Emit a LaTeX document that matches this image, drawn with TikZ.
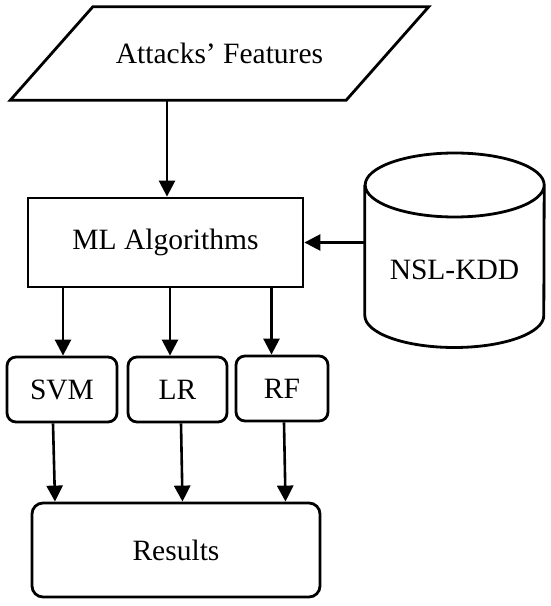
\documentclass[tikz,border=0pt]{standalone}
\usepackage{fontspec}
\setmainfont{Liberation Serif}
\usetikzlibrary{arrows.meta}
\begin{document}
\begin{tikzpicture}[x=1pt,y=1pt,
  box/.style={draw,line width=2.8pt,minimum height=65,inner sep=0pt},
  rbox/.style={box,rounded corners=9pt},
  arr/.style={line width=2.6pt,-{Triangle[length=16pt,width=16pt]}},
  every node/.style={font=\fontsize{29.5}{34}\selectfont}]
\useasboundingbox (0,0) rectangle (550,606);
\node[minimum width=253,minimum height=93,inner sep=0pt] (feat) at (219.5,552.5) {Attacks’ Features};
\draw[line width=2.8pt,line join=miter] (feat.north west) -- ([xshift=82.5]feat.north east)
  -- (feat.south east) -- ([xshift=-82.5]feat.south west) -- cycle;
\node[box,minimum width=275,minimum height=89] (ml) at (165.5,363.5) {ML Algorithms};
\node[minimum width=179,inner sep=0pt] (nsl) at (454.5,336) {NSL-KDD};
\draw[line width=2.8pt] ([yshift=85]nsl.west) -- ([yshift=-45.5]nsl.west)
  arc[start angle=180,end angle=360,x radius=89.5,y radius=32]
  -- ([yshift=85]nsl.east)
  arc[start angle=0,end angle=360,x radius=89.5,y radius=32];
\node[rbox,minimum width=110] (svm) at (62,216.5) {SVM};
\node[rbox,minimum width=99] (lr) at (177.5,216.5) {LR};
\node[rbox,minimum width=92] (rf) at (282,217.5) {RF};
\node[box,rounded corners=11pt,minimum width=288,minimum height=94] (res) at (176,56) {Results};
\draw[arr] ([xshift=1.5]ml.north |- feat.south) -- ([xshift=1.5]ml.north);
\draw[arr] (nsl.west |- ml.east) -- (ml.east);
\draw[arr] ([xshift=1]svm.north |- ml.south) -- ([xshift=1]svm.north);
\draw[arr] ([xshift=-7.5]lr.north |- ml.south) -- ([xshift=-7.5]lr.north);
\draw[arr] ([xshift=-10.5]rf.north |- ml.south) -- ([xshift=-10.5]rf.north);
\draw[arr] ([xshift=-9]svm.south) -- ([xshift=-7]svm.south |- res.north);
\draw[arr] ([xshift=3.5]lr.south) -- ([xshift=5]lr.south |- res.north);
\draw[arr] ([xshift=2]rf.south) -- ([xshift=3.5]rf.south |- res.north);
\end{tikzpicture}
\end{document}
